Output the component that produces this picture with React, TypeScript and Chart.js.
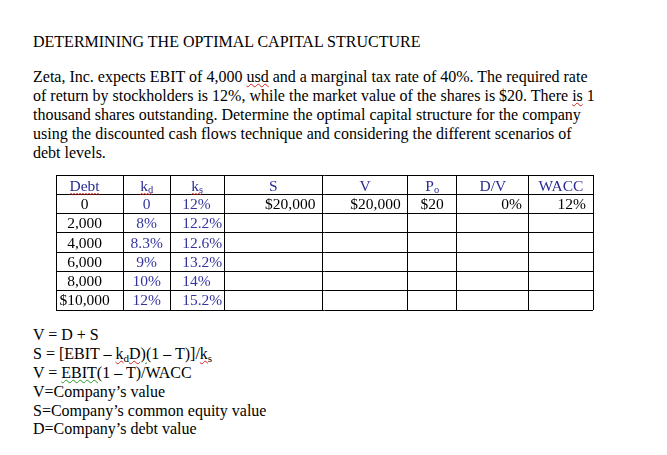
import React, { useEffect, useRef } from "react";
import { Chart, registerables } from "chart.js";

Chart.register(...registerables);

// ---- table data ----
const headers = ["Debt", "k|d", "k|s", "S", "V", "P|o", "D/V", "WACC"];
const debtLevels = ["0", "2,000", "4,000", "6,000", "8,000", "$10,000"];
const kdValues = ["0", "8%", "8.3%", "9%", "10%", "12%"];
const ksValues = ["12%", "12.2%", "12.6%", "13.2%", "14%", "15.2%"];
const sValues = ["$20,000", "", "", "", "", ""];
const vValues = ["$20,000", "", "", "", "", ""];
const poValues = ["$20", "", "", "", "", ""];
const dvValues = ["0%", "", "", "", "", ""];
const waccValues = ["12%", "", "", "", "", ""];

// ---- layout ----
const colWidths = [67, 47, 54, 98, 85, 49, 72, 64];
const colAlign = ["center", "center", "left", "right", "right", "center", "right", "right"];
const colCenterShift = [-5, 0, 0, 0, 0, 0, 0, 0];
const headerColor = "#2b2b95";
const cellColors = ["#000000", "#35359f", "#35359f", "#000000", "#000000", "#000000", "#000000", "#000000"];
const squiggleHeaders = [true, true, true, false, false, false, false, false];

const FONT = "'Liberation Serif', 'Times New Roman', serif";

function drawSquiggle(ctx: CanvasRenderingContext2D, x0: number, x1: number, y: number, color: string) {
  ctx.save();
  ctx.strokeStyle = color;
  ctx.lineWidth = 1;
  ctx.beginPath();
  let up = true;
  ctx.moveTo(x0, y);
  for (let x = x0 + 1.5; x <= x1; x += 1.5) {
    ctx.lineTo(x, up ? y - 1.2 : y);
    up = !up;
  }
  ctx.stroke();
  ctx.restore();
}

function App() {
  const ref = useRef<HTMLCanvasElement | null>(null);

  useEffect(() => {
    const canvas = ref.current;
    if (!canvas) return;
    const columns = [debtLevels, kdValues, ksValues, sValues, vValues, poValues, dvValues, waccValues];
    const boundaries: number[] = [0];
    colWidths.forEach((w) => boundaries.push(boundaries[boundaries.length - 1] + w));
    const total = boundaries[boundaries.length - 1];
    const nRows = debtLevels.length + 1;

    const tablePlugin = {
      id: "tableText",
      afterDraw(chart: any) {
        const ctx: CanvasRenderingContext2D = chart.ctx;
        const xs = chart.scales.x;
        const ys = chart.scales.y;
        ctx.save();
        ctx.textBaseline = "middle";
        const drawCell = (text: string, col: number, row: number, color: string, squiggle: boolean, align: string) => {
          if (!text) return;
          const left = xs.getPixelForValue(boundaries[col]);
          const right = xs.getPixelForValue(boundaries[col + 1]);
          const yMid = (ys.getPixelForValue(row) + ys.getPixelForValue(row + 1)) / 2 + (row === 0 ? 2 : 1);
          const parts = text.split("|");
          const mainFont = `15.5px ${FONT}`;
          const subFont = `10.5px ${FONT}`;
          ctx.font = mainFont;
          const w0 = ctx.measureText(parts[0]).width;
          ctx.font = subFont;
          const w1 = parts[1] ? ctx.measureText(parts[1]).width : 0;
          const w = w0 + w1;
          let x: number;
          if (align === "center") x = (left + right) / 2 + colCenterShift[col] - w / 2;
          else if (align === "left") x = left + 12;
          else x = right - 7 - w;
          ctx.textAlign = "left";
          ctx.fillStyle = color;
          ctx.font = mainFont;
          ctx.fillText(parts[0], x, yMid);
          if (parts[1]) {
            ctx.font = subFont;
            ctx.fillText(parts[1], x + w0, yMid + 4);
          }
          if (squiggle) drawSquiggle(ctx, x, x + w, yMid + 8, "#d42020");
        };
        headers.forEach((h, c) => drawCell(h, c, 0, headerColor, squiggleHeaders[c], "center"));
        columns.forEach((vals, c) => {
          vals.forEach((v, r) => drawCell(v, c, r + 1, cellColors[c], false, colAlign[c]));
        });
        ctx.restore();
      },
    };

    const chart = new Chart(canvas, {
      type: "scatter",
      data: { datasets: [] },
      options: {
        animation: false,
        responsive: false,
        events: [],
        layout: { padding: 1 },
        plugins: { legend: { display: false }, tooltip: { enabled: false } },
        scales: {
          x: {
            type: "linear",
            min: 0,
            max: total,
            afterBuildTicks: (scale: any) => {
              scale.ticks = boundaries.map((v) => ({ value: v }));
            },
            ticks: { display: false },
            grid: { color: "#000000", lineWidth: 1, drawTicks: false },
            border: { display: false },
          },
          y: {
            type: "linear",
            reverse: true,
            min: 0,
            max: nRows,
            afterBuildTicks: (scale: any) => {
              const t = [];
              for (let i = 0; i <= nRows; i++) t.push({ value: i });
              scale.ticks = t;
            },
            ticks: { display: false },
            grid: { color: "#000000", lineWidth: 1, drawTicks: false },
            border: { display: false },
          },
        },
      },
      plugins: [tablePlugin],
    } as any);
    return () => chart.destroy();
  }, []);

  const red = { textDecoration: "underline wavy #d42020", textDecorationThickness: "1px", textUnderlineOffset: "1px" } as React.CSSProperties;
  const green = { textDecoration: "underline wavy #2a9a2a", textDecorationThickness: "1px", textUnderlineOffset: "1px" } as React.CSSProperties;
  const sub = { fontSize: "11px", position: "relative", top: "3px" } as React.CSSProperties;
  const line = { height: "18.9px", lineHeight: "18.9px" } as React.CSSProperties;

  return (
    <div
      style={{
        position: "fixed",
        left: 0,
        top: 0,
        width: 667,
        height: 455,
        background: "#ffffff",
        fontFamily: FONT,
        fontSize: 16,
        color: "#000",
      }}
    >
      <div style={{ position: "absolute", left: 33, top: 32, lineHeight: "19px", whiteSpace: "nowrap" }}>
        DETERMINING THE OPTIMAL CAPITAL STRUCTURE
      </div>
      <div style={{ position: "absolute", left: 33, top: 67, lineHeight: "19px", whiteSpace: "nowrap" }}>
        <div style={{ height: 19 }}>
          Zeta, Inc. expects EBIT of 4,000 <span style={red}>usd</span> and a marginal tax rate of 40%. The required rate
        </div>
        <div style={{ height: 19 }}>
          of return by stockholders is 12%, while the market value of the shares is $20. There <span style={red}>is</span> 1
        </div>
        <div style={{ height: 19 }}>thousand shares outstanding. Determine the optimal capital structure for the company</div>
        <div style={{ height: 19 }}>using the discounted cash flows technique and considering the different scenarios of</div>
        <div style={{ height: 19 }}>debt levels.</div>
      </div>
      <canvas
        ref={ref}
        width={539}
        height={137}
        style={{ position: "absolute", left: 55, top: 174, width: 539, height: 137 }}
      />
      <div style={{ position: "absolute", left: 33, top: 326, whiteSpace: "nowrap" }}>
        <div style={line}>V = D + S</div>
        <div style={line}>
          S = [EBIT – <span style={red}>k<span style={sub}>d</span>D)</span>
          <span style={green}>(</span>1 – T)]/<span style={red}>k<span style={sub}>s</span></span>
        </div>
        <div style={line}>
          V = <span style={green}>EBIT(</span>1 – T)/WACC
        </div>
        <div style={line}>V=Company’s value</div>
        <div style={line}>S=Company’s common equity value</div>
        <div style={line}>D=Company’s debt value</div>
      </div>
    </div>
  );
}

export default App;
